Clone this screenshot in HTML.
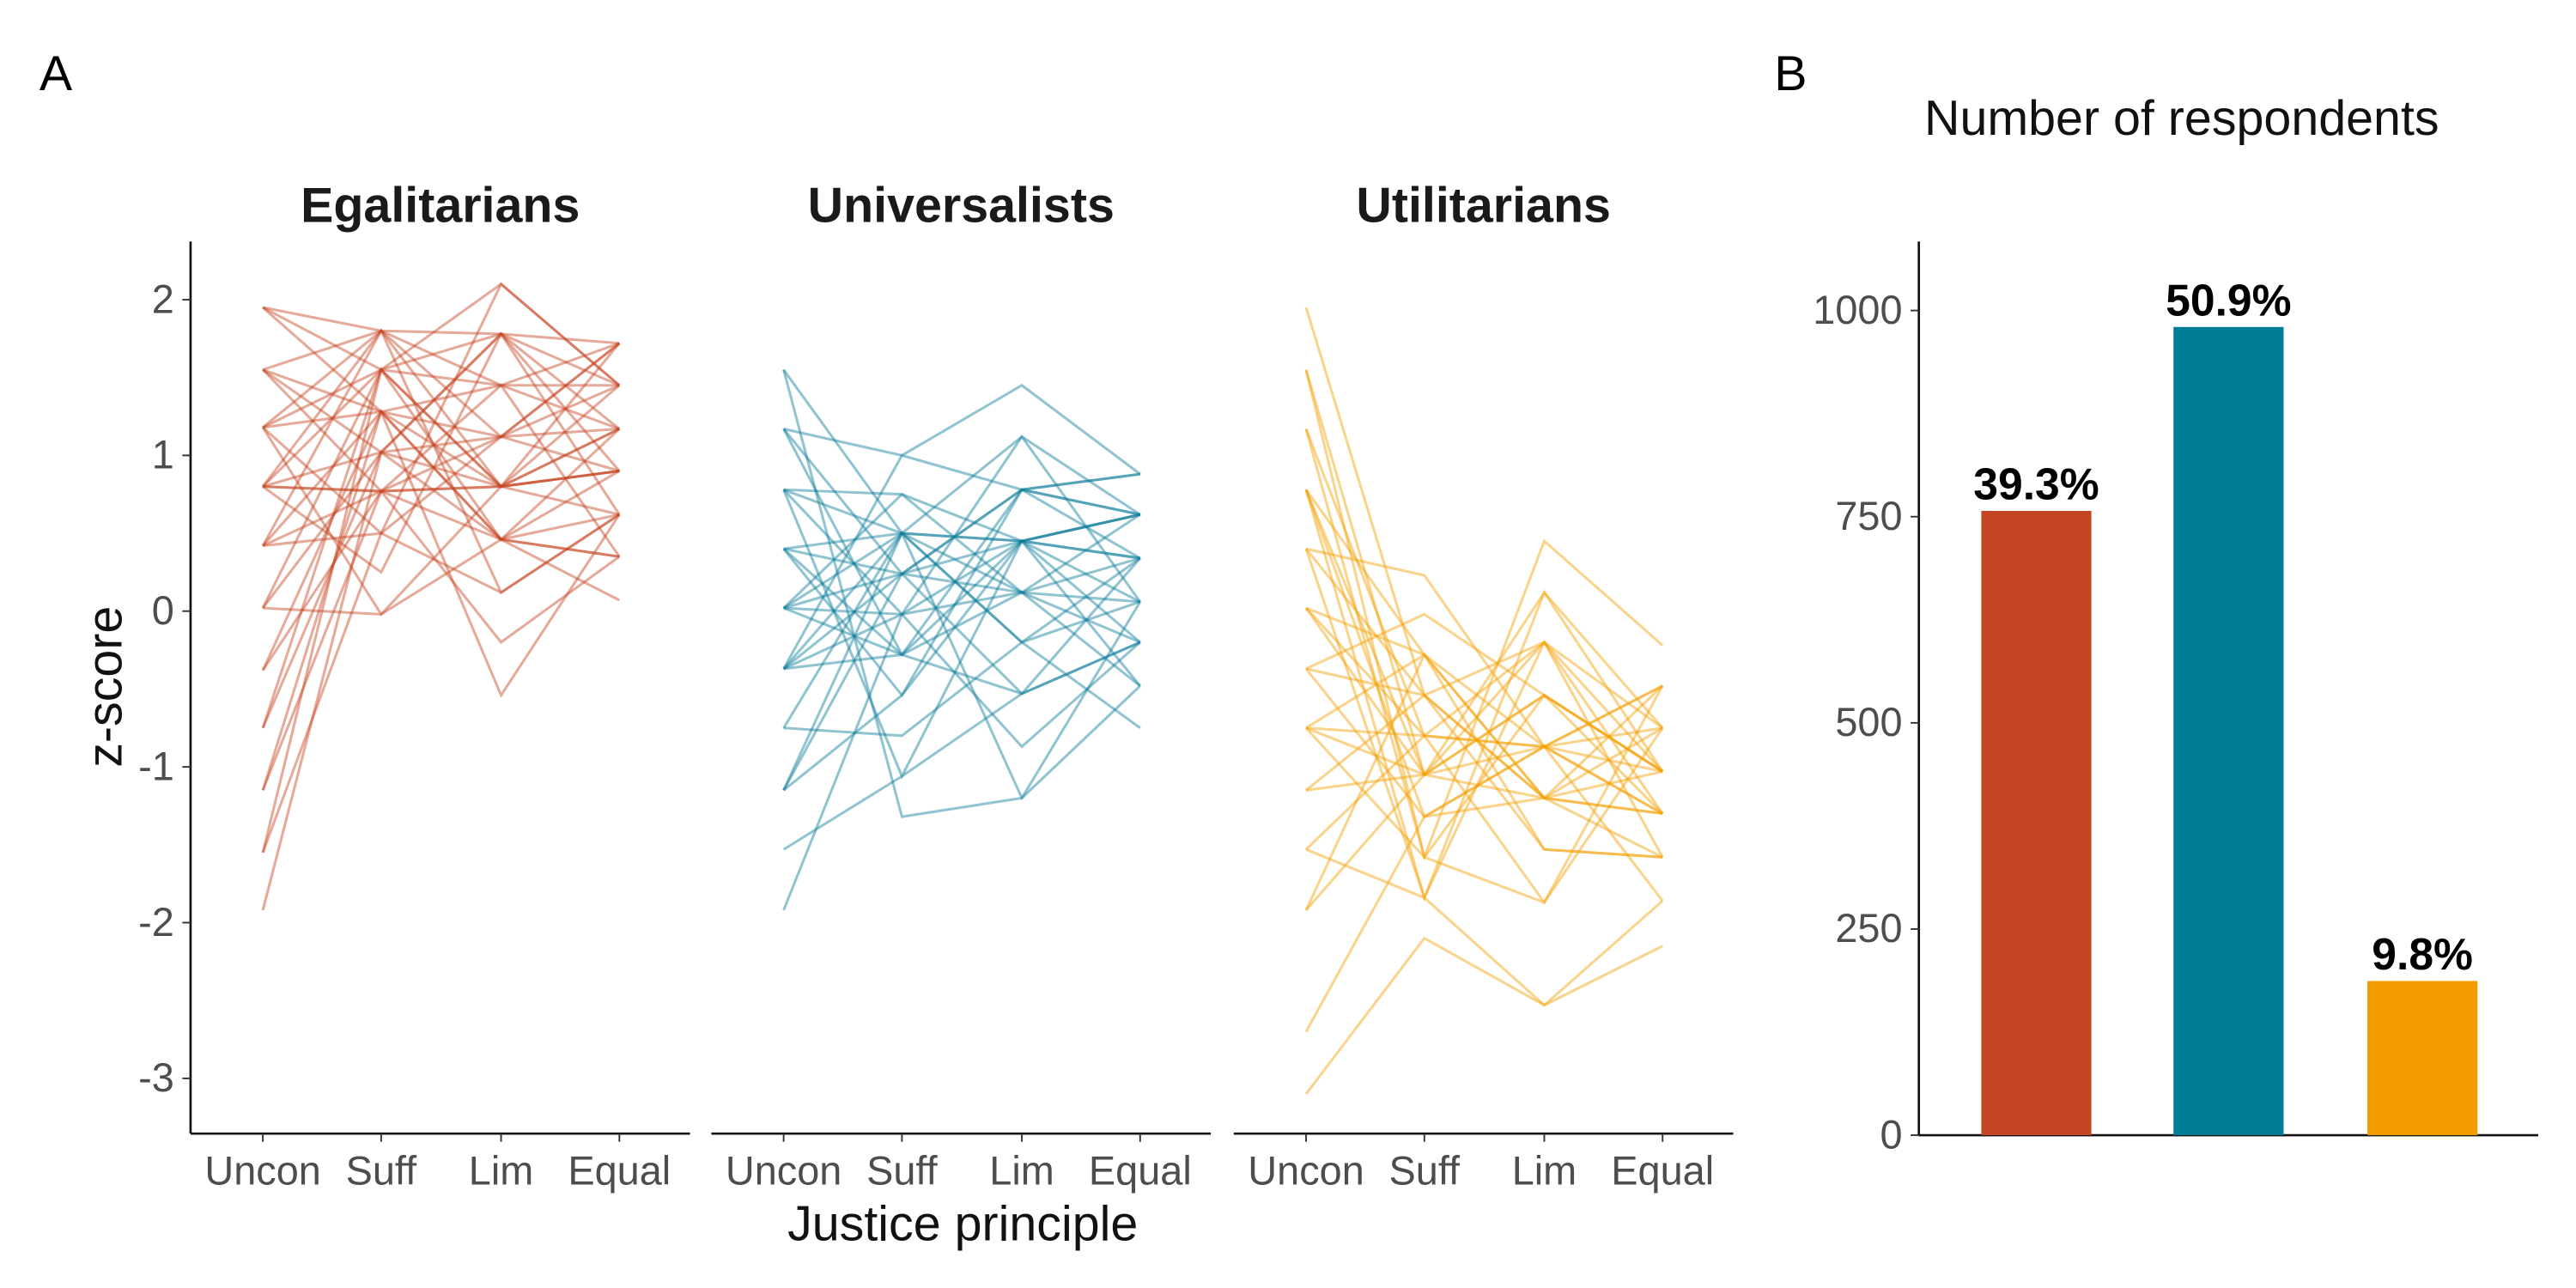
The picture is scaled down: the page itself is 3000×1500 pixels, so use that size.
<!DOCTYPE html>
<html><head><meta charset="utf-8"><style>
html,body{margin:0;padding:0;background:#fff;}
svg{display:block;font-family:"Liberation Sans",sans-serif;}
</style></head><body>
<svg id="chart" width="3000" height="1500" viewBox="0 0 1568 784" xmlns="http://www.w3.org/2000/svg">
<text x="24" y="55" font-size="30">A</text>
<text x="1080" y="55" font-size="30">B</text>
<text x="1328" y="82" font-size="30" text-anchor="middle" fill="#111">Number of respondents</text>
<text x="586" y="755" font-size="30" text-anchor="middle" fill="#111">Justice principle</text>
<text transform="translate(74,418) rotate(-90)" font-size="30" text-anchor="middle" fill="#111">z-score</text>
<g id="panels"></g>
<g id="bars"></g>
</svg>
<script>
const principles = ["Uncon","Suff","Lim","Equal"];
const groups = ["Egalitarians","Universalists","Utilitarians"];
const yTicks = [2,1,0,-1,-2,-3];
const egalLines = [[1.95,1.8,1.78,1.72],[1.95,1.55,2.1,1.45],[1.95,1.28,1.45,1.17],[1.55,1.8,1.12,1.72],[1.55,1.02,1.78,0.9],[1.55,0.77,0.8,1.45],[1.18,1.55,1.78,1.17],[1.18,1.28,0.46,0.62],[1.18,0.5,1.12,1.72],[1.18,1.8,0.8,0.9],[0.8,0.77,0.8,0.62],[0.8,1.55,1.45,1.45],[0.8,0.77,0.46,0.35],[0.8,1.02,1.12,0.9],[0.8,0.25,1.78,1.45],[0.42,1.28,0.8,1.17],[0.42,0.5,0.12,0.62],[0.42,1.8,1.45,0.35],[0.02,1.55,0.8,0.9],[0.02,-0.02,0.46,1.17],[0.02,1.02,1.78,0.62],[-0.38,1.28,1.12,1.45],[-0.38,0.77,-0.2,0.35],[-0.75,1.55,0.46,0.9],[-0.75,1.02,0.8,1.72],[-1.15,1.28,-0.54,0.62],[-1.15,0.77,1.12,1.17],[-1.55,1.55,0.8,0.9],[-1.55,0.5,2.1,1.45],[-1.92,1.02,0.46,0.07],[0.8,1.8,0.12,0.62],[1.18,-0.02,0.8,1.17],[0.42,0.77,1.45,1.72],[1.55,1.28,0.46,0.35]];
const univLines = [[1.55,0.5,0.45,0.62],[1.17,1.0,1.45,0.88],[1.17,0.24,0.78,0.34],[1.17,-0.28,0.12,-0.2],[0.78,0.75,0.45,0.06],[0.78,-0.02,1.12,0.62],[0.78,0.5,-0.2,0.34],[0.4,0.24,0.78,0.88],[0.4,-0.54,0.45,-0.48],[0.4,0.5,0.12,0.06],[0.02,-0.02,0.45,0.34],[0.02,0.24,-0.53,-0.2],[0.02,-0.28,0.78,0.62],[0.02,0.75,0.12,-0.48],[-0.37,0.5,-0.2,0.06],[-0.37,-0.28,0.45,0.62],[-0.37,-0.02,-0.87,-0.2],[-0.37,0.24,0.12,0.34],[-0.75,0.5,1.12,0.06],[-0.75,-0.8,-0.2,-0.75],[-1.15,0.24,0.45,0.34],[-1.15,-0.54,0.78,0.62],[-1.15,0.5,-1.2,-0.48],[-1.53,-1.06,-0.53,-0.2],[-1.92,-0.02,0.12,0.62],[1.55,-1.32,-1.2,0.06],[0.78,-1.06,0.45,-0.2],[-0.37,1.0,0.78,0.88],[0.4,-0.28,-0.53,0.34],[0.02,0.5,0.45,0.62]];
const utilLines = [[1.95,-0.54,-1.2,-1.3],[1.55,-1.05,0.12,-0.75],[1.55,-1.58,-0.54,-1.03],[1.17,-0.8,-0.2,-1.58],[0.78,-0.28,-0.87,-0.48],[0.78,-1.32,-1.2,-1.03],[0.78,-1.05,-0.54,-1.3],[0.4,0.23,-0.87,-0.75],[0.4,-0.54,-1.53,-1.58],[0.4,-1.84,-0.2,-1.03],[0.02,-0.28,-1.2,-0.48],[0.02,-1.05,-0.87,-1.3],[0.02,-0.8,-1.87,-0.75],[-0.37,-0.02,-0.54,-1.03],[-0.37,-1.32,-0.87,-1.86],[-0.37,-0.54,-1.2,-1.3],[-0.75,-1.05,-0.2,-0.75],[-0.75,-0.28,-1.53,-1.58],[-0.75,-1.58,0.45,-0.22],[-0.75,-0.8,-0.87,-1.03],[-1.15,-1.05,-1.2,-0.75],[-1.15,-0.54,-0.2,-1.3],[-1.53,-0.8,-0.87,-0.48],[-1.53,-1.84,-2.53,-2.15],[-1.92,-1.05,-0.54,-1.03],[-1.92,-0.28,-1.2,-1.58],[-2.7,-1.32,-0.87,-1.3],[-3.1,-2.1,-2.53,-1.86],[1.17,-1.58,-1.87,-0.48],[0.78,-1.84,0.12,-1.03]];
const counts = [757, 980, 187];
const pctLabels = ["39.3%","50.9%","9.8%"];
const barTicks = [0,250,500,750,1000];

const NS="http://www.w3.org/2000/svg";
function mk(tag,attrs,parent){const e=document.createElementNS(NS,tag);for(const k in attrs)e.setAttribute(k,attrs[k]);parent.appendChild(e);return e;}
const lineColors=["#c5431f","#0b7d98","#f59f00"];
const allLines=[egalLines,univLines,utilLines];
const panelLeft=[116,433,751], panelW=304;
const xOff=[44,116,189,261];
function yZ(v){return 372-v*94.8;}
const P=document.getElementById('panels');
for(let g=0;g<3;g++){
  const L=panelLeft[g];
  const grp=mk('g',{},P);
  
  
  const t=mk('text',{x:L+152,y:135,'font-size':30,'font-weight':'bold','text-anchor':'middle',fill:'#1a1a1a'},grp);
  t.textContent=groups[g];
  
  
  const xl=mk('line',{x1:L,x2:L+panelW,y1:690,y2:690,stroke:'#111','stroke-width':1.4},grp);
  
  
  principles.forEach((p,i)=>{
    const x=L+xOff[i];
    mk('line',{x1:x,x2:x,y1:690,y2:695,stroke:'#333','stroke-width':1},grp);
    const tt=mk('text',{x:x,y:721,'font-size':24.5,'text-anchor':'middle',fill:'#4d4d4d'},grp);
    tt.textContent=p;
    
    
  });
  allLines[g].forEach(vals=>{
    const pts=vals.map((v,i)=>(L+xOff[i])+','+yZ(v)).join(' ');
    const pl=mk('polyline',{points:pts,fill:'none',stroke:lineColors[g],'stroke-width':1.6,'stroke-opacity':0.45},grp);
    
    
  });
}
const ya=mk('line',{x1:116,x2:116,y1:147,y2:690,stroke:'#111','stroke-width':1.4},P);


yTicks.forEach(v=>{
  mk('line',{x1:111,x2:116,y1:yZ(v),y2:yZ(v),stroke:'#333','stroke-width':1},P);
  const t=mk('text',{x:106,y:yZ(v)+8,'font-size':24.5,'text-anchor':'end',fill:'#4d4d4d'},P);
  t.textContent=v;
  
  
});
const B=document.getElementById('bars');
function yB(v){return 691-v*0.502;}
const barX=[1206,1323,1441], barW=67;
const barColors=["#c44522","#007b96","#f39c00"];
const bya=mk('line',{x1:1168,x2:1168,y1:147,y2:691,stroke:'#111','stroke-width':1.4},B);


const bxa=mk('line',{x1:1168,x2:1545,y1:691,y2:691,stroke:'#111','stroke-width':1.4},B);


barTicks.forEach(v=>{
  mk('line',{x1:1163,x2:1168,y1:yB(v),y2:yB(v),stroke:'#333','stroke-width':1},B);
  const t=mk('text',{x:1158,y:yB(v)+8,'font-size':24.5,'text-anchor':'end',fill:'#4d4d4d'},B);
  t.textContent=v;
  
  
});
counts.forEach((c,i)=>{
  const r=mk('rect',{x:barX[i],y:yB(c),width:barW,height:691-yB(c),fill:barColors[i]},B);
  
  
  const t=mk('text',{x:barX[i]+barW/2,y:yB(c)-7,'font-size':27,'font-weight':'bold','text-anchor':'middle',fill:'#000'},B);
  t.textContent=pctLabels[i];
  
  
});
</script>
</body></html>
